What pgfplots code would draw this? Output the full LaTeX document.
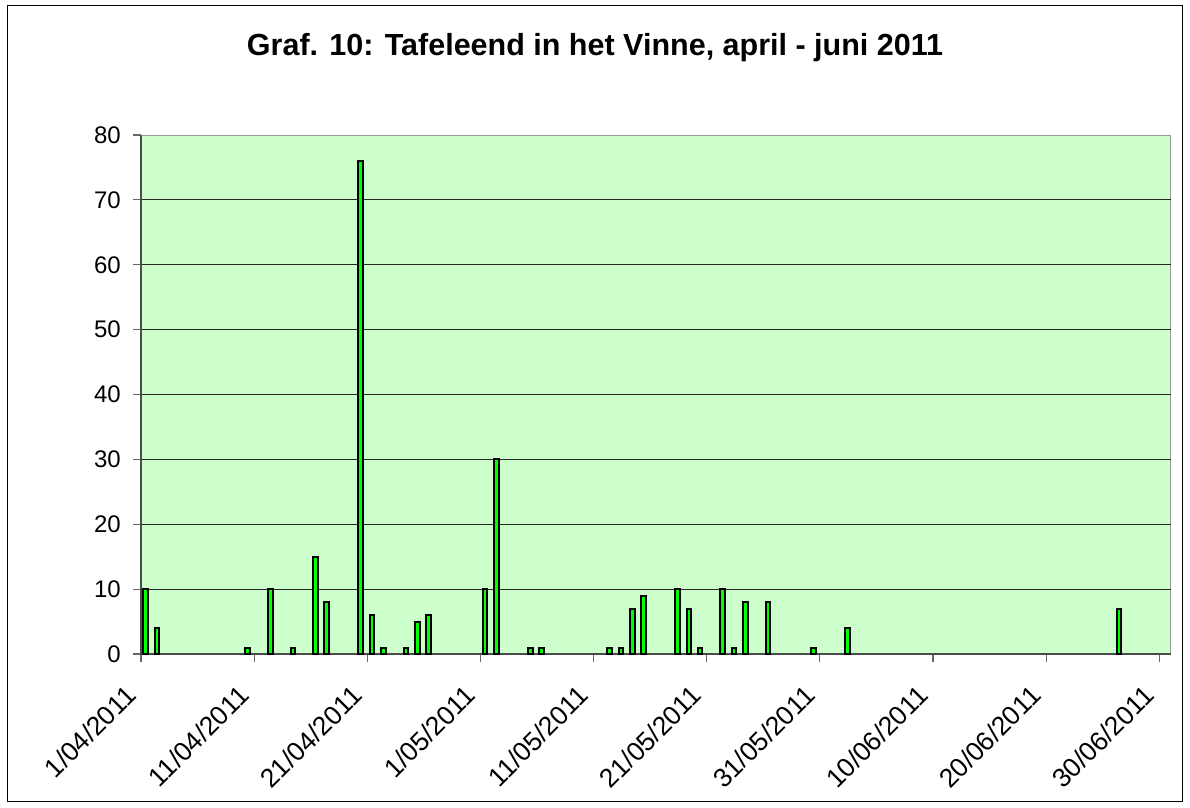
\documentclass[border=0pt]{standalone}
\usepackage{pgfplots}
\usepackage{pgfplotstable}
\pgfplotsset{compat=1.18}
\usepackage{fontspec}
\setmainfont{Liberation Sans}
\definecolor{plotbg}{HTML}{CCFFCC}
\definecolor{barfill}{HTML}{00FF00}
\pgfplotstableread{
day n
0 10
1 4
9 1
11 10
13 1
15 15
16 8
19 76
20 6
21 1
23 1
24 5
25 6
30 10
31 30
34 1
35 1
41 1
42 1
43 7
44 9
47 10
48 7
49 1
51 10
52 1
53 8
55 8
59 1
62 4
86 7
}\counts
\begin{document}
\begin{tikzpicture}[x=1pt,y=1pt]
\useasboundingbox (0,0) rectangle (1190,807);
\draw[line width=1.5pt,black] (7.5,5.5) rectangle (1182.5,801.5);
\node[anchor=base,inner sep=0pt,font=\fontsize{30.5}{36}\selectfont\bfseries] at (595,751) {Graf. 10: Tafeleend in het Vinne, april - juni 2011};
\begin{axis}[
  at={(141pt,153pt)}, anchor=south west,
  scale only axis, width=1029.7pt, height=519pt,
  xmin=0, xmax=91, ymin=0, ymax=80,
  axis background/.style={fill=plotbg, draw=gray!80},
  axis x line*=bottom, axis y line*=left,
  axis line style={draw=black!70, line width=1.2pt},
  tick align=outside, major tick length=8pt,
  tick style={draw=black!60, line width=1.2pt},
  xtick={0,10,...,90},
  xticklabels={1/04/2011,11/04/2011,21/04/2011,1/05/2011,11/05/2011,21/05/2011,31/05/2011,10/06/2011,20/06/2011,30/06/2011},
  ytick={0,10,...,70},
  extra y ticks={80},
  extra y tick style={grid=none},
  ymajorgrids,
  major grid style={draw=black!85, line width=1pt},
  /pgf/number format/assume math mode=true,
  ticklabel style={inner sep=0pt},
  yticklabel style={font=\fontsize{24}{29}\selectfont, anchor=east, xshift=-12pt},
  xticklabel style={font=\fontsize{26.5}{32}\selectfont, rotate=45, anchor=east, xshift=-27pt, yshift=-13pt},
  clip=false,
]
\addplot[ybar, bar width=4.6pt, fill=barfill, draw=black, line width=2pt]
  table[x expr=\thisrow{day}+0.42, y=n] {\counts};
\end{axis}
\end{tikzpicture}
\end{document}
